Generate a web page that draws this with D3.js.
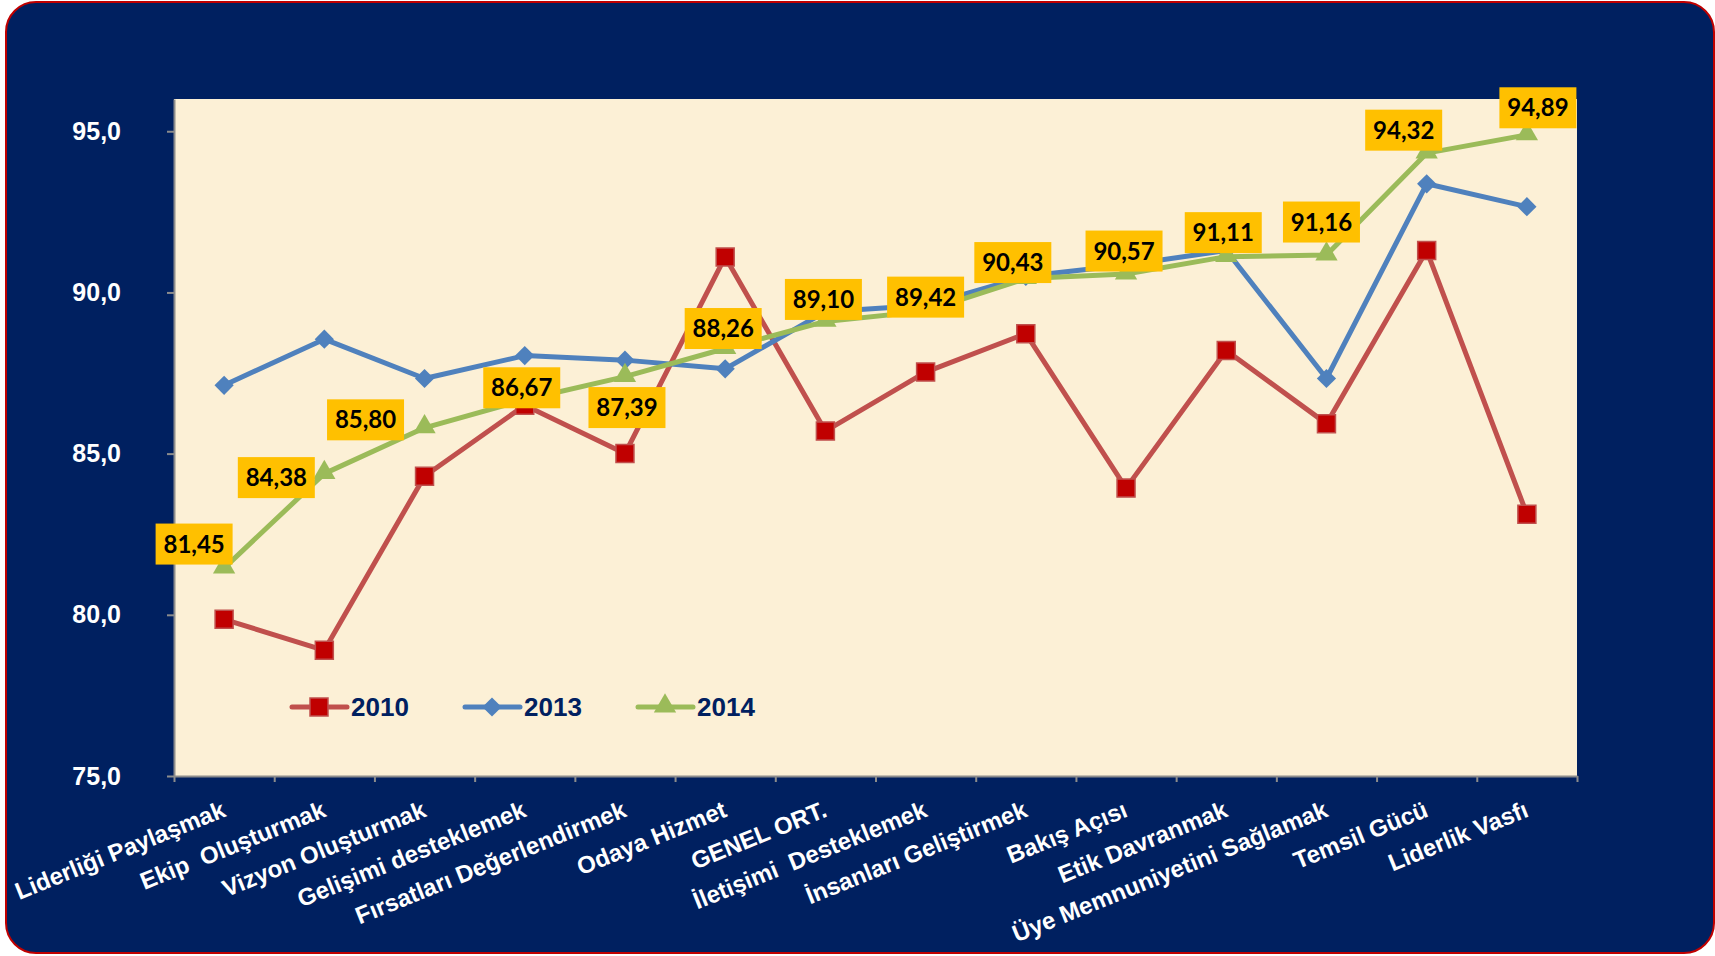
<!DOCTYPE html>
<html>
<head>
<meta charset="utf-8">
<script src="https://cdn.jsdelivr.net/npm/d3@7"></script>
<style>
  body { margin: 0; background: #ffffff; }
  svg { display: block; }
</style>
</head>
<body>
<svg id="chart"></svg>
<script>
// data
const categories = [
    "Liderliği Paylaşmak", "Ekip  Oluşturmak", "Vizyon Oluşturmak", "Gelişimi desteklemek",
    "Fırsatları Değerlendirmek", "Odaya Hizmet", "GENEL ORT.", "İletişimi  Desteklemek",
    "İnsanları Geliştirmek", "Bakış Açısı", "Etik Davranmak", "Üye Memnuniyetini Sağlamak",
    "Temsil Gücü", "Liderlik Vasfı"
];
const values2010 = [79.86, 78.9, 84.3, 86.5, 85.0, 91.1, 85.7, 87.53, 88.72, 83.93, 88.2, 85.93, 91.3, 83.12];
const values2013 = [87.12, 88.55, 87.33, 88.04, 87.9, 87.63, 89.4, 89.6, 90.5, 90.85, 91.3, 87.33, 93.37, 92.66];
const values2014 = [81.45, 84.38, 85.80, 86.67, 87.39, 88.26, 89.10, 89.42, 90.43, 90.57, 91.11, 91.16, 94.32, 94.89];
const seriesNames = ["2010", "2013", "2014"];
const yTicks = [75, 80, 85, 90, 95];
const yDomain = [75, 96];

// where each yellow label box sits relative to its point (dx, dy)
const labelOffsets = [[-30, -24], [-48, 4], [-59, -8], [-3, -12], [2, 31], [-2, -20], [-2, -22],
                      [0, -14], [-13, -16], [-2, -23], [-3, -24], [-5, -33], [-23, -23], [11, -27]];

const config = {
    width: 1715,
    height: 956,
    plot: {left: 174, right: 1577, top: 99, bottom: 776}
};

const locale = d3.formatLocale({decimal: ",", thousands: ".", grouping: [3], currency: ["", ""]});
const fmt1 = locale.format(".1f");
const fmt2 = locale.format(".2f");

const svg = d3.select("#chart")
    .attr("width", config.width)
    .attr("height", config.height);

// outer navy panel with red border
svg.append("rect")
    .attr("x", 6).attr("y", 2)
    .attr("width", 1708).attr("height", 951)
    .attr("rx", 30).attr("ry", 30)
    .attr("fill", "#002060")
    .attr("stroke", "#C00000")
    .attr("stroke-width", 2);

const p = config.plot;

// plot background
svg.append("rect")
    .attr("x", p.left).attr("y", p.top)
    .attr("width", p.right - p.left).attr("height", p.bottom - p.top)
    .attr("fill", "#FCF0D6");

// scales
const x = d3.scalePoint()
    .domain(categories)
    .range([p.left, p.right])
    .padding(0.5);
const xEdges = d3.scaleLinear()
    .domain([0, categories.length])
    .range([p.left, p.right]);
const y = d3.scaleLinear()
    .domain(yDomain)
    .range([p.bottom, p.top]);

// y axis
const yAxis = d3.axisLeft(y)
    .tickValues(yTicks)
    .tickSize(7)
    .tickSizeOuter(0)
    .tickPadding(46)
    .tickFormat(fmt1);
const yAxisG = svg.append("g")
    .attr("transform", `translate(${p.left},0)`)
    .call(yAxis);
yAxisG.select(".domain").attr("stroke", "#8C8C8C").attr("stroke-width", 2);
yAxisG.selectAll(".tick line").attr("stroke", "#8C8C8C").attr("stroke-width", 2);
yAxisG.selectAll(".tick text")
    .attr("fill", "#ffffff")
    .style("font-family", "'Liberation Sans', Arial, sans-serif")
    .style("font-weight", "bold")
    .style("font-size", "25px");

// x axis (ticks between categories)
const xAxis = d3.axisBottom(xEdges)
    .tickValues(d3.range(categories.length + 1))
    .tickSize(6)
    .tickSizeOuter(0)
    .tickFormat("");
const xAxisG = svg.append("g")
    .attr("transform", `translate(0,${p.bottom})`)
    .call(xAxis);
xAxisG.select(".domain").attr("stroke", "#8C8C8C").attr("stroke-width", 2);
xAxisG.selectAll(".tick line").attr("stroke", "#8C8C8C").attr("stroke-width", 2);

// rotated category labels
svg.append("g")
    .selectAll("text")
    .data(categories)
    .join("text")
    .attr("transform", d => `translate(${x(d) + 3},${p.bottom + 40}) rotate(-22)`)
    .attr("text-anchor", "end")
    .attr("fill", "#ffffff")
    .style("font-family", "'Liberation Sans', Arial, sans-serif")
    .style("font-weight", "bold")
    .style("font-size", "24px")
    .style("white-space", "pre")
    .text(d => d);

// series
const series = [
    {name: seriesNames[0], values: values2010, color: "#C0504D", fill: "#C00000", marker: "square"},
    {name: seriesNames[1], values: values2013, color: "#4F81BD", fill: "#4F81BD", marker: "diamond"},
    {name: seriesNames[2], values: values2014, color: "#9BBB59", fill: "#9BBB59", marker: "triangle"}
];

function markerPath(kind) {
    if (kind === "square") return d3.symbol(d3.symbolSquare, 324)();
    if (kind === "diamond") return d3.symbol(d3.symbolSquare, 185)();
    return d3.symbol(d3.symbolTriangle, 215)();
}
function markerTransform(kind, px, py) {
    if (kind === "diamond") return `translate(${px},${py}) rotate(45)`;
    if (kind === "triangle") return `translate(${px},${py - 1})`;
    return `translate(${px},${py})`;
}

const line = d3.line()
    .x((d, i) => x(categories[i]))
    .y(d => y(d));

series.forEach(s => {
    const g = svg.append("g").attr("class", "series");
    g.append("path")
        .datum(s.values)
        .attr("fill", "none")
        .attr("stroke", s.color)
        .attr("stroke-width", 5)
        .attr("stroke-linejoin", "round")
        .attr("d", line);
    g.selectAll("path.marker")
        .data(s.values)
        .join("path")
        .attr("class", "marker")
        .attr("d", markerPath(s.marker))
        .attr("transform", (d, i) => markerTransform(s.marker, x(categories[i]), y(d)))
        .attr("fill", s.fill)
        .attr("stroke", s.color)
        .attr("stroke-width", s.marker === "square" ? 1.5 : 0);
});

// legend
const legendItems = [
    {s: series[0], x: 292},
    {s: series[1], x: 465},
    {s: series[2], x: 638}
];
const legendY = 707;
const legend = svg.append("g");
legendItems.forEach(it => {
    legend.append("line")
        .attr("x1", it.x).attr("x2", it.x + 55)
        .attr("y1", legendY).attr("y2", legendY)
        .attr("stroke", it.s.color)
        .attr("stroke-width", 5)
        .attr("stroke-linecap", "round");
    legend.append("path")
        .attr("d", markerPath(it.s.marker))
        .attr("transform", markerTransform(it.s.marker, it.x + 27, legendY))
        .attr("fill", it.s.fill)
        .attr("stroke", it.s.color)
        .attr("stroke-width", it.s.marker === "square" ? 1.5 : 0);
    legend.append("text")
        .attr("x", it.x + 59)
        .attr("y", legendY)
        .attr("dy", "0.36em")
        .attr("fill", "#002060")
        .style("font-family", "'Liberation Sans', Arial, sans-serif")
        .style("font-weight", "bold")
        .style("font-size", "26px")
        .text(it.s.name);
});

// data labels for 2014
const boxW = 77, boxH = 41;
const labels = svg.append("g")
    .selectAll("g")
    .data(values2014)
    .join("g")
    .attr("transform", (d, i) => `translate(${x(categories[i]) + labelOffsets[i][0]},${y(d) + labelOffsets[i][1]})`);
labels.append("rect")
    .attr("x", -boxW / 2).attr("y", -boxH / 2)
    .attr("width", boxW).attr("height", boxH)
    .attr("fill", "#FFC000");
labels.append("text")
    .attr("text-anchor", "middle")
    .attr("dy", "0.36em")
    .attr("fill", "#000000")
    .style("font-family", "Lato, 'Open Sans', sans-serif")
    .style("font-weight", "bold")
    .style("font-size", "24px")
    .text(d => fmt2(d));
</script>
</body>
</html>
